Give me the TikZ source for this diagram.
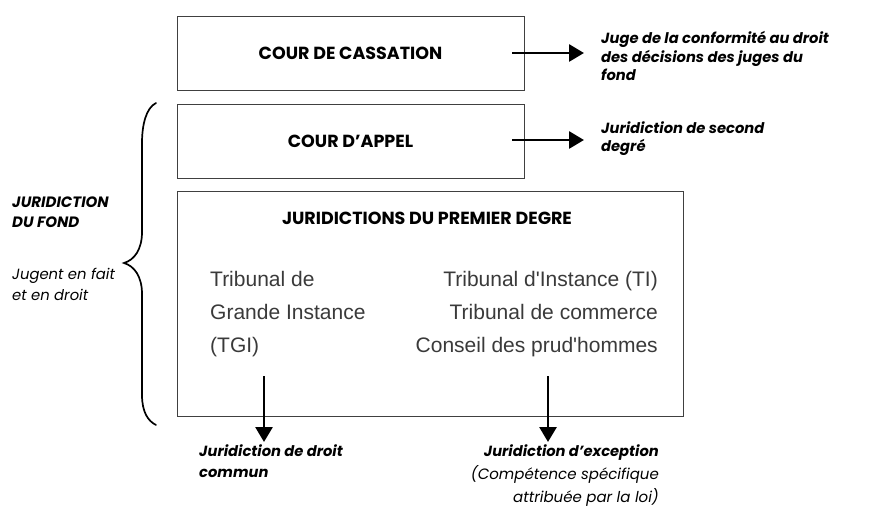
\documentclass[tikz,border=0pt]{standalone}
\usepackage{fontspec}
\newfontfamily\fut{Poppins}
\newfontfamily\ari{Liberation Sans}
\usetikzlibrary{arrows.meta}
\definecolor{boxline}{HTML}{404040}
\definecolor{tribtext}{HTML}{3A3A3A}
\begin{document}
\begin{tikzpicture}[x=1pt,y=-1pt,
  box/.style={draw=boxline, line width=0.9pt, inner sep=0pt},
  ttl/.style={font=\fut\bfseries\fontsize{17.5}{20}\selectfont, inner sep=0pt},
  lbl/.style={font=\fut\bfseries\itshape\fontsize{14.7}{18.5}\selectfont, align=left, inner sep=0pt},
  trib/.style={font=\ari\fontsize{21}{33}\selectfont, text=tribtext, inner sep=0pt},
  arr/.style={line width=2.8pt, -{Triangle[length=15pt,width=17pt]}},
  bracestyle/.style={line width=1.7pt, line cap=round}
]
\useasboundingbox[fill=white] (0,0) rectangle (872,529);

% boxes
\node[box, minimum width=347pt, minimum height=74pt] (cass) at (350.5,53) {};
\node[ttl] (casst) at (350.5,53) {COUR DE CASSATION};
\node[box, minimum width=347pt, minimum height=74pt] (appel) at (350.5,141) {};
\node[ttl] (appelt) at (350.5,141) {COUR D’APPEL};
\node[box, minimum width=506pt, minimum height=225pt] (prem) at (430,303.5) {};
\node[ttl, anchor=base] (premt) at (427,225) {JURIDICTIONS DU PREMIER DEGRE};

% tribunals
\node[trib, anchor=base west, align=left] (tgi) at (210,352) {Tribunal de\\Grande Instance\\(TGI)};
\node[trib, anchor=base east, align=right] (exc) at (658,352) {Tribunal d'Instance (TI)\\Tribunal de commerce\\Conseil des prud'hommes};

% right labels
\node[lbl, anchor=base west] (l1) at (601,81) {Juge de la conformité au droit\\des décisions des juges du\\fond};
\node[lbl, anchor=base west] (l2) at (601,152) {Juridiction de second\\degré};

\coordinate (s1) at (512,53);
\coordinate (t1) at (584,53);
\coordinate (s2) at (512,140);
\coordinate (t2) at (584,140);
\draw[arr] (s1) -- (t1);
\draw[arr] (s2) -- (t2);

% bottom arrows
\coordinate (s3) at (264,376);
\coordinate (t3) at (264,442);
\coordinate (s4) at (548,376);
\coordinate (t4) at (548,442);
\draw[arr] (s3) -- (t3);
\draw[arr] (s4) -- (t4);

% bottom labels
\node[lbl, anchor=base west, font=\fut\bfseries\itshape\fontsize{14.7}{21}\selectfont] (l3) at (199,477) {Juridiction de droit\\commun};
\node[lbl, anchor=base east, align=right, font=\fut\itshape\fontsize{15}{23}\selectfont] (l4) at (659,502) {{\bfseries\fontsize{14.7}{23}\selectfont Juridiction d’exception}\\(Compétence spécifique\\attribuée par la loi)};

% left side
\node[lbl, anchor=base west, font=\fut\bfseries\itshape\fontsize{15}{20}\selectfont] (fond) at (12,228) {JURIDICTION\\DU FOND};
\node[lbl, anchor=base west, font=\fut\itshape\fontsize{14.8}{21}\selectfont] (jug) at (12,300) {Jugent en fait\\et en droit};

% brace
\draw[bracestyle] (156,103) .. controls (146,108) and (142,125) .. (142,143)
  -- (142,232) .. controls (142,250) and (134,260) .. (124,263)
  .. controls (134,266) and (142,276) .. (142,294)
  -- (142,395) .. controls (142,412) and (148,421) .. (156,425);
\end{tikzpicture}
\end{document}
